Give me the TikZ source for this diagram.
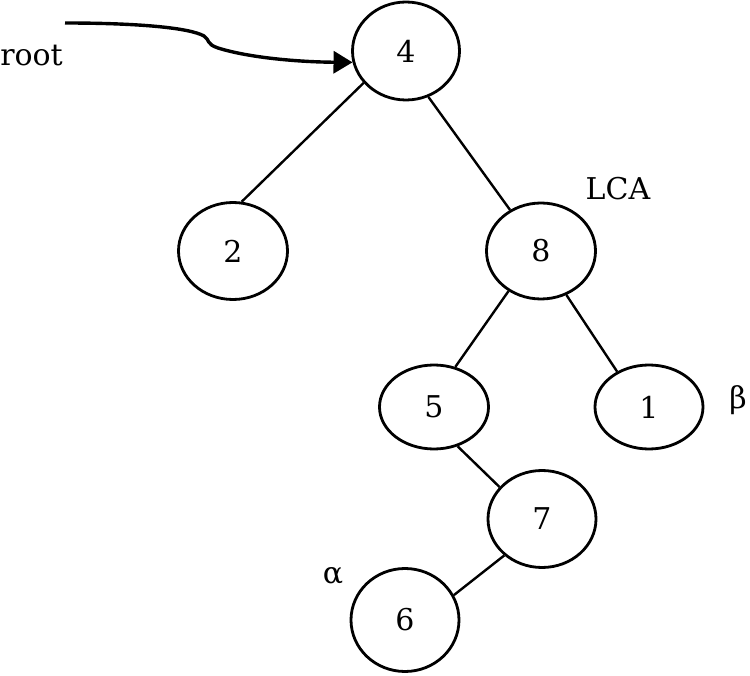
\documentclass[tikz,border=0pt]{standalone}
\usepackage{fontspec}
\setmainfont{DejaVu Serif}
\usetikzlibrary{shapes.geometric,arrows.meta}
\tikzset{
  tnode/.style={ellipse,draw=black,line width=2.8pt,inner sep=0pt,font=\fontsize{30}{36}\selectfont},
  edge/.style={draw=black,line width=2.4pt},
  lbl/.style={inner sep=0pt,font=\fontsize{30}{36}\selectfont},
}
\begin{document}
\begin{tikzpicture}[x=1pt,y=-1pt]
\useasboundingbox (0,0) rectangle (750,676);
\node[tnode,minimum width=107pt,minimum height=98pt] (n4) at (406,51) {4};
\node[tnode,minimum width=109pt,minimum height=97pt] (n2) at (233,251) {2};
\node[tnode,minimum width=109pt,minimum height=96pt] (n8) at (541,251) {8};
\node[tnode,minimum width=109pt,minimum height=84pt] (n5) at (434,407) {5};
\node[tnode,minimum width=108pt,minimum height=84pt] (n1) at (649,407) {1};
\node[tnode,minimum width=108pt,minimum height=97pt] (n7) at (542,519) {7};
\node[tnode,minimum width=108pt,minimum height=103pt] (n6) at (405,620) {6};
\draw[edge] (n4.217) -- (n2.80);
\draw[edge] (n4.296) -- (n8.127);
\draw[edge] (n8.231) -- (n5.62);
\draw[edge] (n8.300) -- (n1.132);
\draw[edge] (n5.301) -- (n7.143);
\draw[edge] (n7.224) -- (n6.27);
\node[lbl] (lca) at (618,189) {LCA};
\node[lbl] (beta) at (738,400) {β};
\node[lbl] (alpha) at (333,576) {α};
\node[lbl,anchor=base east] (root) at (63,66) {root};
\coordinate (rs) at (65,23);
\draw[line width=3.4pt,-{Triangle[length=19pt,width=22pt]}] (rs) .. controls (140,23) and (190,28) .. (204,36)
  .. controls (210,40) and (206,44) .. (218,48)
  .. controls (250,58) and (300,62) .. (n4.192);
\end{tikzpicture}
\end{document}
